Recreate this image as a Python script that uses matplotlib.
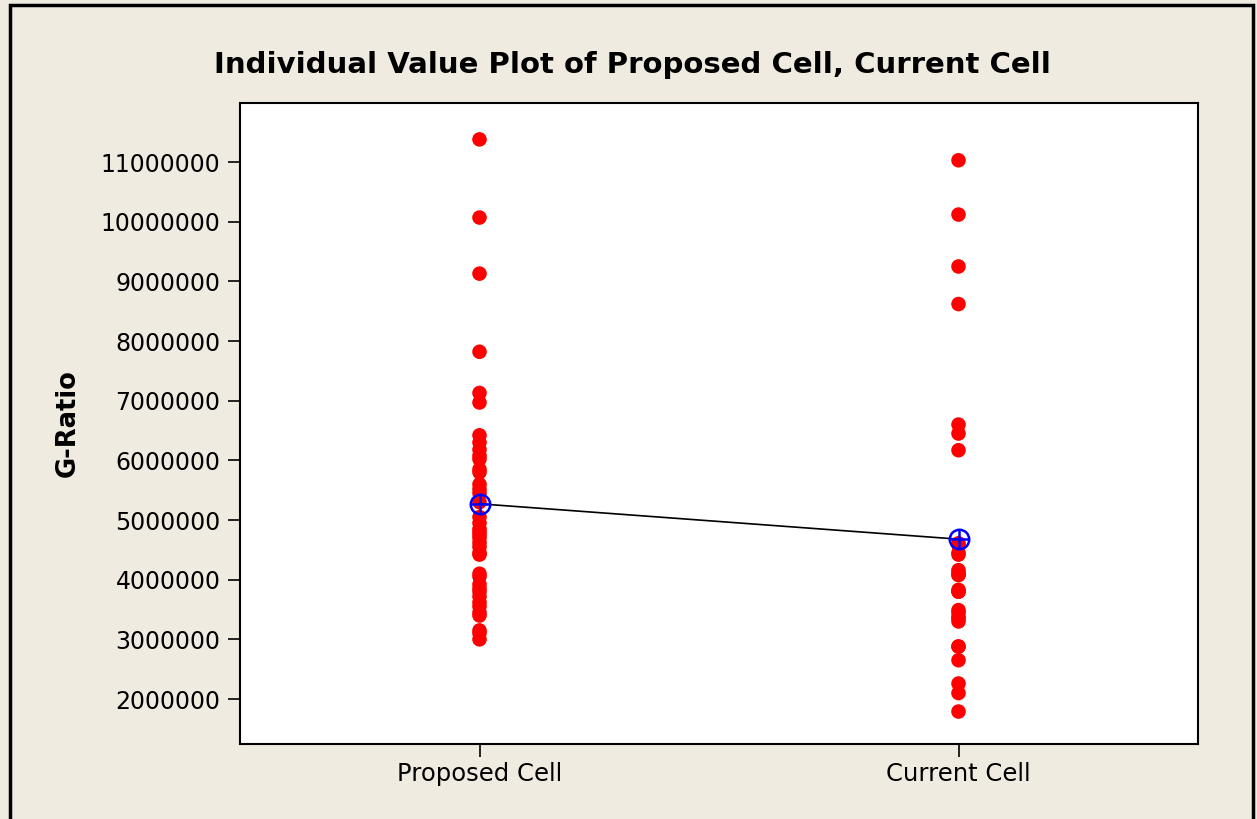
import numpy as np
import matplotlib.pyplot as plt
from matplotlib.patches import Rectangle

# G-Ratio values per cell layout
proposed = np.array([11.38, 10.07, 9.13, 7.82, 7.13, 6.97, 6.42, 6.30, 6.18, 6.08,
                     6.02, 5.85, 5.80, 5.60, 5.52, 5.45, 5.30, 5.05, 4.95, 4.85,
                     4.80, 4.75, 4.70, 4.62, 4.55, 4.45, 4.42, 4.10, 4.05, 3.92,
                     3.85, 3.80, 3.72, 3.62, 3.55, 3.45, 3.40, 3.15, 3.10, 3.00]) * 1e6
current = np.array([11.03, 10.12, 9.25, 8.62, 6.60, 6.45, 6.17,
                    4.61, 4.58, 4.45, 4.42, 4.16, 4.12, 4.08, 4.08, 3.83, 3.80,
                    3.80, 3.49, 3.45, 3.38, 3.35, 3.30, 2.88, 2.88, 2.65,
                    2.26, 2.10, 1.79]) * 1e6

groups = ['Proposed Cell', 'Current Cell']
yticks = np.arange(2000000, 11000001, 1000000)

bg = '#EFEBE1'
fig = plt.figure(figsize=(12.57, 8.19), dpi=100, facecolor=bg)
ax = fig.add_axes([240/1257, 75/819, 958/1257, 641/819])
ax.set_facecolor('white')

xs = np.arange(1, len(groups) + 1)
for x, vals in zip(xs, [proposed, current]):
    ax.scatter(np.full(len(vals), x), vals, s=110, color='#FF0000',
               edgecolors='none', zorder=2)

means = [proposed.mean(), current.mean()]
ax.plot(xs, means, color='black', lw=1.2, zorder=3)
ax.plot(xs, means, ls='none', marker='o', ms=14, mfc='none', mec='#0000FF',
        mew=1.8, zorder=4)
ax.plot(xs, means, ls='none', marker='+', ms=14, mec='#0000FF', mew=1.8, zorder=4)

ax.set_xlim(0.5, 2.5)
ax.set_ylim(1.246e6, 11.99e6)
ax.set_xticks(xs)
ax.set_xticklabels(groups, fontsize=17.5)
ax.set_yticks(yticks)
ax.set_yticklabels([str(v) for v in yticks], fontsize=17)
ax.tick_params(axis='both', length=9, width=1.2, color='black')
ax.tick_params(axis='y', pad=5)
ax.tick_params(axis='x', pad=4)
for sp in ax.spines.values():
    sp.set_linewidth(1.5)

ax.set_ylabel('G-Ratio', fontsize=18.5, fontweight='bold', labelpad=14)
fig.text(632/1257, 1 - 65/819, 'Individual Value Plot of Proposed Cell, Current Cell',
         ha='center', va='center', fontsize=21, fontweight='bold')

# outer frame
fig.patches.append(Rectangle((10/1257, -0.05), 1243/1257, 1.05 - 5/819,
                             transform=fig.transFigure, fill=False,
                             edgecolor='black', lw=2.5))

fig.savefig('out.png', dpi=100, facecolor=bg)
